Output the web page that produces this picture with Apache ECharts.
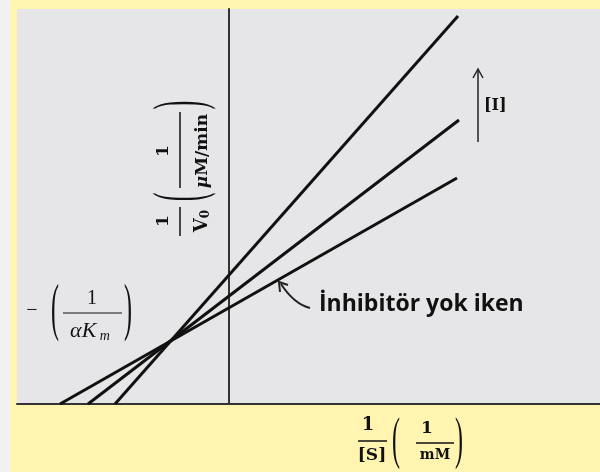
<!DOCTYPE html>
<html>
<head>
<meta charset="utf-8">
<script src="https://cdn.jsdelivr.net/npm/echarts@6/dist/echarts.min.js"></script>
<style>
  html, body { margin: 0; padding: 0; background: #fff4b0; }
  #chart { width: 600px; height: 472px; }
</style>
</head>
<body>
<div id="chart"></div>
<script>
// Lineweaver–Burk lines: each starts on the 1/[S] axis (1/V0 = 0) and runs up-right.
const lineNames = ['İnhibitör yok', '[I] düşük', '[I] yüksek'];
const startX = [-1.69, -1.41, -1.14];
const startY = [0, 0, 0];
const endX = [2.28, 2.30, 2.29];
const endY = [2.26, 2.84, 3.88];

// axis window
const xMin = -2.12, xMax = 3.71;
const yMin = 0, yMax = 3.95;

const ink = '#111';
const serif = '"DejaVu Serif", "Liberation Serif", serif';
const times = '"Liberation Serif", "DejaVu Serif", serif';

const chart = echarts.init(document.getElementById('chart'), null, { renderer: 'canvas' });

const series = lineNames.map((name, i) => ({
  name: name,
  type: 'line',
  data: [[startX[i], startY[i]], [endX[i], endY[i]]],
  symbol: 'none',
  lineStyle: { color: ink, width: 3 },
  silent: true,
  z: 3
}));

function paren(ch, x, y, size, sy, font) {
  return {
    type: 'text', x: x, y: y, scaleY: sy,
    style: { text: ch, font: size + 'px ' + font, fill: ink, align: 'center', verticalAlign: 'middle' }
  };
}
function bar(x1, x2, y, w) {
  return { type: 'line', shape: { x1: x1, y1: y, x2: x2, y2: y }, style: { stroke: ink, lineWidth: w || 1.5 } };
}
function txt(t, x, y, font, align, rich) {
  const s = { text: t, font: font, fill: ink, align: align || 'center', verticalAlign: 'middle' };
  if (rich) s.rich = rich;
  return { type: 'text', x: x, y: y, style: s };
}

const graphic = [
  // pale strip at the far left edge
  { type: 'rect', shape: { x: 0, y: 0, width: 10, height: 472 }, style: { fill: '#f1f1f1' }, z: -10 },
  // lighter margin at the right edge of the plot panel
  { type: 'rect', shape: { x: 596, y: 9, width: 4, height: 394 }, style: { fill: '#ececee' }, z: -1 },

  // y-axis title, written horizontally inside a group turned 90° counter-clockwise
  {
    type: 'group', x: 180, y: 170, rotation: Math.PI / 2,
    children: [
      txt('1', -51, -16, 'bold 17px ' + serif),
      bar(-66, -37, 0, 1.5),
      txt('{v|V}{s|0}', -51, 22, 'bold 18px ' + serif, 'center', {
        v: { font: 'bold 18px ' + serif, fill: ink },
        s: { font: 'bold 12px ' + serif, fill: ink, verticalAlign: 'bottom', padding: [8, 0, 0, 0] }
      }),
      paren('(', -27, 3, 26, 2.7, times),
      txt('1', 19, -16, 'bold 17px ' + serif),
      bar(-18, 58, 0, 1.5),
      txt('{m|μ}{b|M/min}', 19, 23, 'bold 17px ' + serif, 'center', {
        m: { font: 'italic bold 17px ' + serif, fill: ink },
        b: { font: 'bold 17px ' + serif, fill: ink }
      }),
      paren(')', 65, 3, 26, 2.7, times)
    ]
  },

  // x-axis title 1/[S] (1/mM)
  txt('1', 368, 425, 'bold 18px ' + serif),
  bar(358, 387, 441, 1.5),
  txt('[S]', 372, 456, 'bold 17px ' + serif),
  paren('(', 396, 442, 24, 2.4, times),
  txt('1', 427, 429, 'bold 17px ' + serif),
  bar(416, 454, 443, 1.5),
  txt('mM', 435, 455, 'bold 14px ' + serif),
  paren(')', 459, 442, 24, 2.4, times),

  // intercept label −(1/αKm)
  txt('−', 32, 311, '20px ' + times),
  paren('(', 55, 312, 24, 2.6, times),
  txt('1', 92, 299, '20px ' + times),
  bar(63, 122, 313, 1),
  txt('{a|αK}{s| m}', 90, 331, 'italic 22px ' + times, 'center', {
    a: { font: 'italic 22px ' + times, fill: ink },
    s: { font: 'italic 14px ' + times, fill: ink, verticalAlign: 'bottom', padding: [10, 0, 0, 0] }
  }),
  paren(')', 128, 312, 24, 2.6, times),

  // "no inhibitor" note with curved pointer
  txt('İnhibitör yok iken', 319, 304, 'bold 23px "Open Sans", sans-serif', 'left'),
  {
    type: 'bezierCurve',
    shape: { x1: 310, y1: 308, cpx1: 294, cpy1: 304, x2: 281, y2: 284 },
    style: { stroke: '#222', lineWidth: 2, fill: null }
  },
  {
    type: 'polyline',
    shape: { points: [[280, 292], [279, 282], [288, 285]] },
    style: { stroke: '#222', lineWidth: 2, fill: null }
  },

  // increasing [I] arrow
  { type: 'line', shape: { x1: 478, y1: 142, x2: 478, y2: 70 }, style: { stroke: '#222', lineWidth: 1.5 } },
  { type: 'polyline', shape: { points: [[473, 78], [478, 69], [483, 78]] }, style: { stroke: '#222', lineWidth: 1.5, fill: null } },
  txt('[I]', 484, 106, 'bold 16px ' + serif, 'left')
];

chart.setOption({
  backgroundColor: '#fff4b0',
  animation: false,
  grid: {
    left: 17, right: 0, top: 9, bottom: 68,
    show: true, backgroundColor: '#e6e6e8', borderWidth: 0,
    containLabel: false
  },
  xAxis: {
    type: 'value', min: xMin, max: xMax,
    axisLine: { show: true, onZero: false, lineStyle: { color: '#333', width: 2 } },
    axisTick: { show: false }, axisLabel: { show: false }, splitLine: { show: false }
  },
  yAxis: {
    type: 'value', min: yMin, max: yMax,
    axisLine: { show: true, onZero: true, lineStyle: { color: '#333', width: 2 } },
    axisTick: { show: false }, axisLabel: { show: false }, splitLine: { show: false }
  },
  series: series,
  graphic: graphic
});
</script>
</body>
</html>
